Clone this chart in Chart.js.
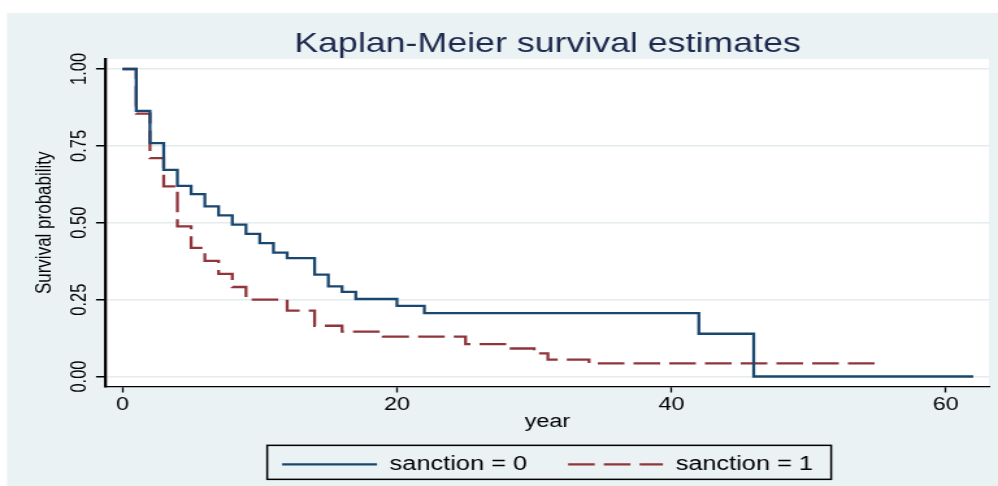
<!DOCTYPE html>
<html>
<head>
<meta charset="utf-8">
<script src="https://cdn.jsdelivr.net/npm/chart.js@4/dist/chart.umd.min.js"></script>
<style>
html,body{margin:0;padding:0;background:#fff;overflow:hidden;}
#wrap{width:768px;height:486px;transform:scaleX(1.29948);transform-origin:0 0;}
</style>
</head>
<body>
<div id="wrap"><canvas id="c" width="768" height="486"></canvas></div>
<script>
// ---- data ----
const chartTitle = 'Kaplan-Meier survival estimates';
const seriesLabels = ['sanction = 0', 'sanction = 1'];
const timeSanction0 = [0, 1, 2, 3, 4, 5, 6, 7, 8, 9, 10, 11, 12, 14, 15, 16, 17, 20, 22, 42, 46, 62];
const survSanction0 = [1, 0.864, 0.759, 0.672, 0.620, 0.593, 0.553, 0.524, 0.494, 0.464, 0.434, 0.403, 0.385, 0.331, 0.293, 0.275, 0.252, 0.230, 0.206, 0.139, 0, 0];
const timeSanction1 = [0, 1, 2, 3, 4, 5, 6, 7, 8, 9, 12, 14, 16, 19, 25, 28, 30, 31, 34, 55];
const survSanction1 = [1, 0.855, 0.710, 0.618, 0.488, 0.418, 0.376, 0.334, 0.291, 0.250, 0.214, 0.165, 0.146, 0.130, 0.105, 0.091, 0.075, 0.055, 0.043, 0.043];
const xTickValues = [0, 20, 40, 60];
const yTickValues = [0, 0.25, 0.5, 0.75, 1];
const xAxisTitle = 'year';
const yAxisTitle = 'Survival probability';

const FONT = "'Liberation Sans', Arial, Helvetica, sans-serif";
const BG = '#eaf2f3';

const toPoints = (xs, ys) => xs.map((x, i) => ({x: x, y: ys[i]}));

const bgPlugin = {
  id: 'bgPlugin',
  beforeDraw(chart) {
    const ctx = chart.ctx, a = chart.chartArea;
    ctx.save();
    ctx.fillStyle = '#ffffff';
    ctx.fillRect(0, 0, chart.width, chart.height);
    ctx.fillStyle = BG;
    ctx.fillRect(5.4, 13, chart.width - 5.4, chart.height - 13);
    ctx.fillStyle = '#ffffff';
    ctx.fillRect(a.left, a.top, a.right - a.left, a.bottom - a.top);
    ctx.restore();
  },
  afterDraw(chart) {
    const lg = chart.legend;
    if (!lg || !lg.legendHitBoxes || !lg.legendHitBoxes.length) return;
    const hb = lg.legendHitBoxes;
    const first = hb[0], last = hb[hb.length - 1];
    const cy = first.top + first.height / 2;
    const ctx = chart.ctx;
    ctx.save();
    ctx.strokeStyle = '#000';
    ctx.lineWidth = 1.5;
    ctx.strokeRect(first.left - 11.5, cy - 19, (last.left + last.width + 14) - (first.left - 11.5), 34);
    ctx.restore();
  }
};

new Chart(document.getElementById('c'), {
  type: 'line',
  data: {
    datasets: [
      {
        label: seriesLabels[0],
        data: toPoints(timeSanction0, survSanction0),
        borderColor: '#1a476f',
        backgroundColor: '#1a476f',
        borderWidth: 2.3,
        stepped: 'before',
        pointRadius: 0,
        pointStyle: 'line',
        fill: false
      },
      {
        label: seriesLabels[1],
        data: toPoints(timeSanction1, survSanction1),
        borderColor: '#90353b',
        backgroundColor: '#90353b',
        borderWidth: 2.3,
        borderDash: [20.5, 7],
        stepped: 'before',
        pointRadius: 0,
        pointStyle: 'line',
        fill: false
      }
    ]
  },
  options: {
    responsive: false,
    animation: false,
    devicePixelRatio: 1,
    layout: {padding: {top: 0, left: 0, right: 6.9, bottom: 1.9}},
    scales: {
      x: {
        type: 'linear',
        min: -1.2,
        max: 63.15,
        afterBuildTicks: s => { s.ticks = xTickValues.map(v => ({value: v})); },
        afterFit: s => { s.height = 36.5; },
        grid: {drawOnChartArea: false, drawTicks: true, tickLength: 6, tickColor: '#000', tickWidth: 1.3},
        border: {display: true, color: '#000', width: 1.3},
        ticks: {font: {family: FONT, size: 18}, color: '#000', padding: 2, maxRotation: 0, minRotation: 0, callback: v => String(v)},
        title: {display: true, text: xAxisTitle, font: {family: FONT, size: 18}, color: '#000', padding: {top: 0, bottom: -10.3}}
      },
      y: {
        type: 'linear',
        min: -0.0325,
        max: 1.0325,
        afterBuildTicks: s => { s.ticks = yTickValues.map(v => ({value: v})); },
        afterFit: s => { s.width = 81.6; },
        grid: {drawOnChartArea: true, color: '#e4ecee', lineWidth: 1.5, drawTicks: true, tickLength: 7.7, tickColor: '#000', tickWidth: 1.5},
        border: {display: true, color: '#000', width: 2.3},
        ticks: {font: {family: FONT, size: 16.5}, color: '#000', padding: -3.2, minRotation: 90, maxRotation: 90, crossAlign: 'center', callback: v => v.toFixed(2)},
        title: {display: true, text: yAxisTitle, font: {family: FONT, size: 17}, color: '#000', padding: {top: 24.4, bottom: 0}}
      }
    },
    plugins: {
      title: {
        display: true,
        text: chartTitle,
        fullSize: false,
        color: '#1e2a4f',
        font: {family: FONT, size: 27.5, weight: 'normal'},
        padding: {top: 28, bottom: -2}
      },
      legend: {
        display: true,
        position: 'bottom',
        fullSize: false,
        labels: {
          usePointStyle: true,
          pointStyle: 'line',
          pointStyleWidth: 73,
          padding: 31.6,
          color: '#000',
          font: {family: FONT, size: 19.5},
          generateLabels(chart) {
            const items = Chart.defaults.plugins.legend.labels.generateLabels(chart);
            items.forEach(it => {
              const ds = chart.data.datasets[it.datasetIndex];
              it.lineDash = ds.borderDash || [];
              it.lineWidth = ds.borderWidth;
              it.strokeStyle = ds.borderColor;
              it.pointStyle = 'line';
            });
            return items;
          }
        }
      },
      tooltip: {enabled: false}
    }
  },
  plugins: [bgPlugin]
});
</script>
</body>
</html>
